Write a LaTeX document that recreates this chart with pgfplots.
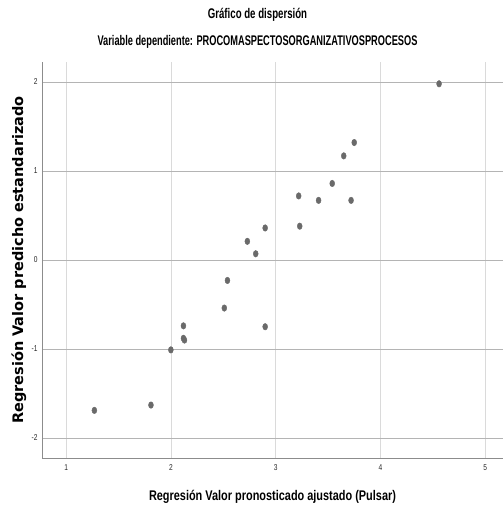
\documentclass[border=0pt]{standalone}
\usepackage{fontspec}
\setmainfont{Liberation Sans}
\newfontfamily\condfont{Liberation Sans}[FakeStretch=0.78]
\newfontfamily\titlefont{Liberation Sans}[FakeStretch=0.69]
\newfontfamily\subfont{Liberation Sans}[FakeStretch=0.66]
\newfontfamily\ylabfont{DejaVu Sans}
\usepackage{pgfplots}
\pgfplotsset{compat=1.18}
\definecolor{markgray}{HTML}{6A6A6A}
\definecolor{gridv}{HTML}{DADADA}
\definecolor{gridh}{HTML}{B4B4B4}
\definecolor{axgray}{HTML}{8C8C8C}
\begin{document}
\begin{tikzpicture}
\useasboundingbox (-42pt,-54pt) rectangle (461pt,458pt);
\begin{axis}[
  at={(0,0)}, anchor=south west,
  scale only axis,
  width=461pt, height=396pt,
  xmin=0.77, xmax=5.17,
  ymin=-2.225, ymax=2.225,
  xtick={1,2,3,4,5},
  ytick={-2,-1,0,1,2},
  axis x line*=bottom,
  axis y line*=left,
  axis line style={axgray, line width=0.8pt},
  major tick length=0pt,
  xmajorgrids, ymajorgrids,
  x grid style={gridv, line width=0.7pt},
  y grid style={gridh, line width=0.7pt},
  /pgf/number format/assume math mode=true,
  tick label style={font=\condfont\fontsize{8.5}{9}\selectfont, text=black!85},
  xticklabel style={yshift=-3pt},
  yticklabel style={xshift=-1pt},
  clip=false,
]
\addplot[only marks, mark=*, mark options={fill=markgray, draw=markgray, xscale=0.75}, mark size=3.3pt]
coordinates {
  (1.27,-1.69) (1.81,-1.63) (2.00,-1.01) (2.12,-0.88) (2.13,-0.90)
  (2.12,-0.74) (2.51,-0.54) (2.54,-0.23) (2.73,0.21) (2.81,0.07)
  (2.90,0.36) (2.90,-0.75) (3.22,0.72) (3.23,0.38) (3.41,0.67)
  (3.54,0.86) (3.65,1.17) (3.72,0.67) (3.75,1.32) (4.56,1.98)
};
\end{axis}
\node[font=\titlefont\bfseries\fontsize{14}{16}\selectfont] at (215.5pt,443pt) {Gráfico de dispersión};
\node[font=\subfont\bfseries\fontsize{14}{16}\selectfont] at (215.5pt,416pt) {Variable dependiente: PROCOMASPECTOSORGANIZATIVOSPROCESOS};
\node[font=\condfont\bfseries\fontsize{14}{16}\selectfont] at (230.5pt,-39pt) {Regresión Valor pronosticado ajustado (Pulsar)};
\node[font=\ylabfont\bfseries\fontsize{14.5}{16}\selectfont, rotate=90] at (-23pt,198pt) {Regresión Valor predicho estandarizado};
\end{tikzpicture}
\end{document}
